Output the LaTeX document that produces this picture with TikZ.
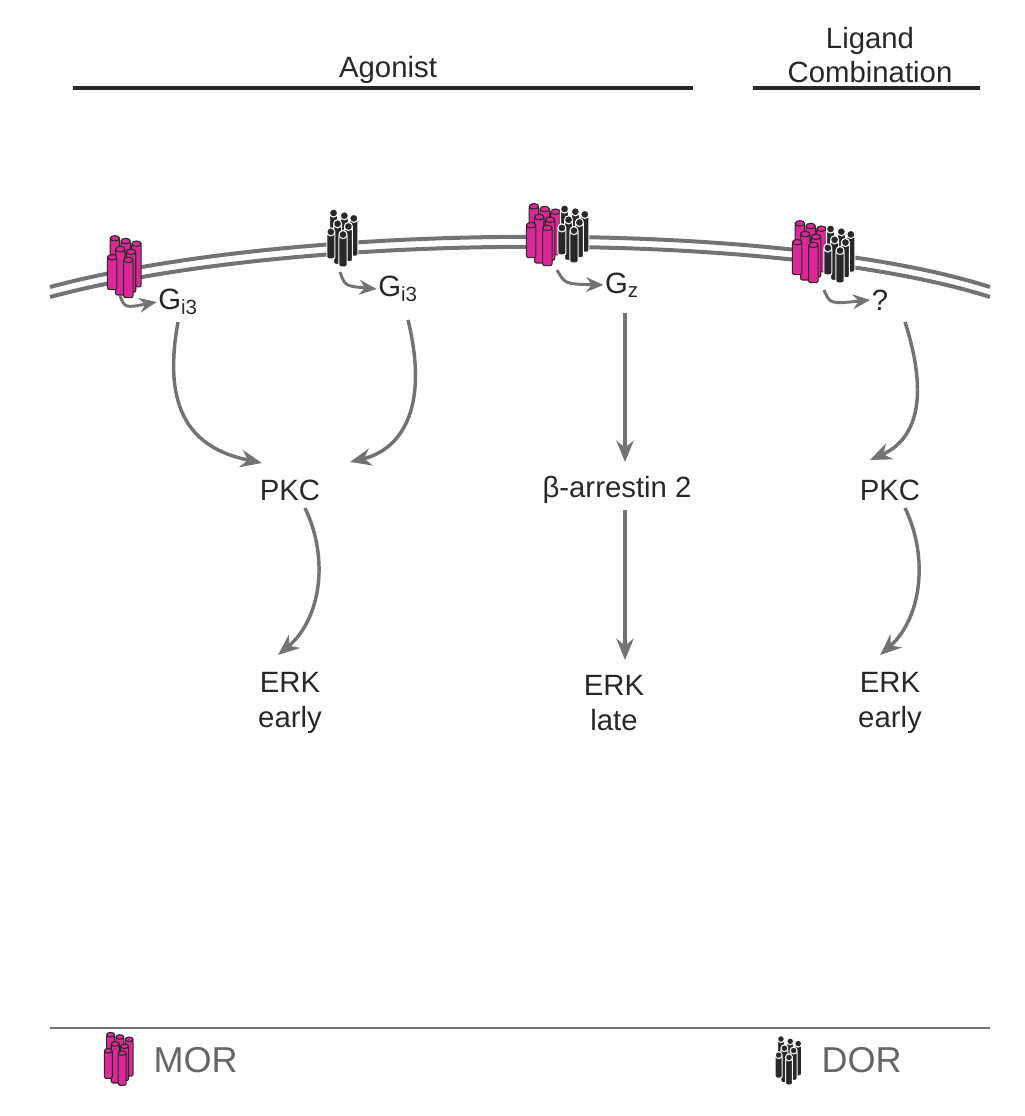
\documentclass[tikz,border=0pt]{standalone}
\usepackage{fontspec}
\setmainfont{Liberation Sans}
\usetikzlibrary{arrows.meta}
\definecolor{mag}{RGB}{220,40,150}
\definecolor{dk}{RGB}{40,40,40}
\newcommand\cylM[3]{\filldraw[fill=mag,draw=dk,line width=0.8pt,rounded corners=1.5pt] (#1-3.5,#2) rectangle (#1+3.5,#3);
  \filldraw[fill=mag,draw=dk,line width=0.8pt] (#1,#2) ellipse[x radius=3.5,y radius=2];}
\newcommand\cylD[3]{\filldraw[fill=dk,draw=white,line width=0.8pt,rounded corners=1.5pt] (#1-3,#2) rectangle (#1+3,#3);
  \filldraw[fill=dk,draw=white,line width=0.8pt] (#1,#2) circle[radius=3];}
\newcommand\rcpM[3]{\begin{scope}[shift={(#1,#2)},scale=#3]
  \cylM{-9}{-22}{14}\cylM{-1}{-20}{16}\cylM{7}{-18}{14}
  \cylM{-5}{-14}{20}\cylM{3}{-12}{18}\cylM{-11}{-8}{16}\cylM{1}{-6}{22}
  \end{scope}}
\newcommand\rcpD[3]{\begin{scope}[shift={(#1,#2)},scale=#3]
  \cylD{-7}{-20}{12}\cylD{1}{-18}{14}\cylD{8}{-16}{12}
  \cylD{-4}{-12}{18}\cylD{4}{-10}{16}\cylD{-9}{-6}{14}\cylD{0}{-4}{20}
  \end{scope}}
\tikzset{
  lbl/.style={font=\fontsize{22}{26}\selectfont,text=dk,align=center,inner sep=1pt},
  arr/.style={draw=black!55,line width=2.6pt,-{Stealth[length=16pt,width=13pt]}},
  sarr/.style={draw=black!55,line width=2.2pt,-{Stealth[length=13pt,width=11pt]}},
  mem/.style={draw=black!55,line width=3pt},
  hline/.style={draw=dk,line width=3.2pt}
}
\begin{document}
\begin{tikzpicture}[x=0.75pt,y=-0.75pt]
\useasboundingbox (0,0) rectangle (1024,1116);
% headers
\node[lbl] (ag) at (388,70) {Agonist};
\node[lbl] (lc) at (870,55) {Ligand\\Combination};
\draw[hline] (73,88) -- (693,88);
\draw[hline] (753,88) -- (980,88);
% membrane
\draw[mem] (50,287) .. controls (300,220) and (780,220) .. (990,287);
\draw[mem] (50,297) .. controls (300,230) and (780,230) .. (990,297);
% receptors
\rcpM{127}{268}{1.35}
\rcpD{343}{240}{1.35}
\rcpM{546}{236}{1.35}\rcpD{574}{236}{1.35}
\rcpM{812}{253}{1.35}\rcpD{840}{256}{1.35}
% G proteins
\node[lbl] (g1) at (178,302) {G$_{\mathrm{i3}}$};
\node[lbl] (g2) at (398,289) {G$_{\mathrm{i3}}$};
\node[lbl] (gz) at (622,285) {G$_{\mathrm{z}}$};
\node[lbl] (q) at (880,300) {?};
\coordinate (r1) at (120,296);
\coordinate (r2) at (340,272);
\coordinate (r3) at (557,270);
\coordinate (r4) at (824,290);
\draw[sarr] (r1) .. controls (125,308) .. (g1.west);
\draw[sarr] (r2) .. controls (345,286) .. (g2.west);
\draw[sarr] (r3) .. controls (565,284) .. (gz.west);
\draw[sarr] (r4) .. controls (830,304) .. (q.west);
% middle level
\node[lbl] (pk1) at (290,490) {PKC};
\node[lbl] (ba) at (617,490) {β-arrestin 2};
\node[lbl] (pk2) at (890,490) {PKC};
\node[lbl] (e1) at (290,703) {ERK\\early};
\node[lbl] (e2) at (614,703) {ERK\\late};
\node[lbl] (e3) at (890,703) {ERK\\early};
\draw[arr] (178,322) .. controls (160,420) and (200,450) .. (262,463);
\draw[arr] (408,320) .. controls (430,410) and (400,450) .. (350,462);
\draw[arr] (625,313) -- (625,462);
\draw[arr] (905,322) .. controls (930,400) and (915,440) .. (870,460);
\draw[arr] (305,508) .. controls (330,560) and (320,620) .. (278,655);
\draw[arr] (625,510) -- (625,660);
\draw[arr] (905,508) .. controls (930,560) and (920,620) .. (880,655);
% legend
\draw[draw=black!55,line width=1pt] (50,1028) -- (990,1028);
\rcpM{121}{1060}{1.15}
\node[lbl,text=black!60,font=\fontsize{27}{30}\selectfont,anchor=west] (mor) at (152,1060) {MOR};
\rcpD{789}{1062}{1.15}
\node[lbl,text=black!60,font=\fontsize{27}{30}\selectfont,anchor=west] (dor) at (820,1060) {DOR};
\end{tikzpicture}
\end{document}
